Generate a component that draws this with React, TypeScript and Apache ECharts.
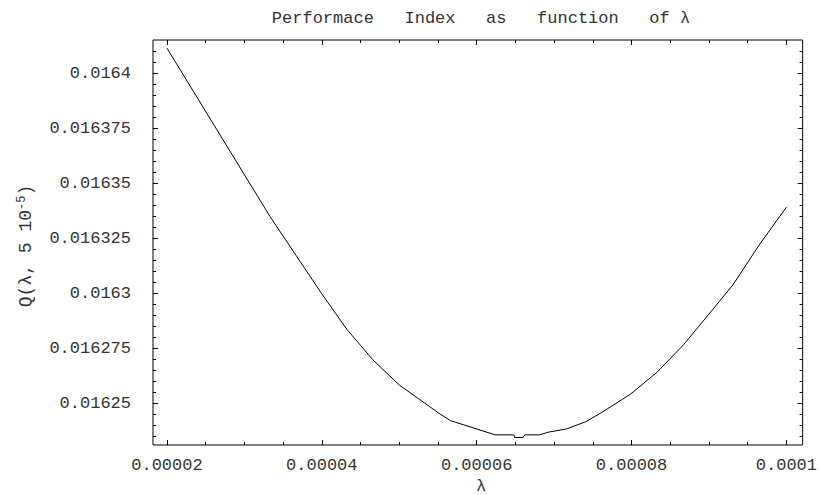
import React, { useEffect, useRef } from "react";
import * as echarts from "echarts";

// Sampled curve Q(lambda, 5 10^-5)
const lambdaValues = [
  0.00002, 0.0000333, 0.00004, 0.0000433, 0.0000466, 0.00005, 0.0000551, 0.0000566,
  0.0000624, 0.0000648, 0.0000649, 0.000066, 0.0000662, 0.0000681, 0.0000692, 0.0000716,
  0.0000741, 0.0000762, 0.0000799, 0.0000833, 0.0000867, 0.0000899, 0.0000931, 0.0000965,
  0.0001,
];
const qValues = [
  0.0164114, 0.0163349, 0.0162997, 0.0162833, 0.0162697, 0.0162583, 0.0162455, 0.0162421,
  0.0162356, 0.0162356, 0.0162344, 0.0162344, 0.0162356, 0.0162356, 0.0162368, 0.0162383,
  0.0162416, 0.0162459, 0.0162542, 0.0162641, 0.0162765, 0.0162901, 0.0163038, 0.016322,
  0.0163391,
];

const xMajorTicks = [0.00002, 0.00004, 0.00006, 0.00008, 0.0001];
const xTickLabels = ["0.00002", "0.00004", "0.00006", "0.00008", "0.0001"];
const xMinorTicks = [
  0.000025, 0.00003, 0.000035, 0.000045, 0.00005, 0.000055, 0.000065, 0.00007, 0.000075,
  0.000085, 0.00009, 0.000095,
];
const yMajorTicks = [0.01625, 0.016275, 0.0163, 0.016325, 0.01635, 0.016375, 0.0164];
const yTickLabels = ["0.01625", "0.016275", "0.0163", "0.016325", "0.01635", "0.016375", "0.0164"];
const yMinorTicks = [
  0.016235, 0.01624, 0.016245, 0.016255, 0.01626, 0.016265, 0.01627, 0.01628, 0.016285,
  0.01629, 0.016295, 0.016305, 0.01631, 0.016315, 0.01632, 0.01633, 0.016335, 0.01634,
  0.016345, 0.016355, 0.01636, 0.016365, 0.01637, 0.01638, 0.016385, 0.01639, 0.016395,
  0.016405, 0.01641,
];

const X_MIN = 0.0000182;
const X_MAX = 0.0001021;
const Y_MIN = 0.016231;
const Y_MAX = 0.0164151;

const FONT = "'Liberation Mono', 'DejaVu Sans Mono', monospace";
const TEXT_COLOR = "#333";

function nearestLabel(v: number, ticks: number[], labels: string[]) {
  let best = 0;
  for (let i = 1; i < ticks.length; i++) {
    if (Math.abs(ticks[i] - v) < Math.abs(ticks[best] - v)) best = i;
  }
  return labels[best];
}

function makeAxis(
  dim: "x" | "y",
  position: string,
  ticks: number[],
  length: number,
  labels: string[] | null
) {
  const isX = dim === "x";
  return {
    type: "value",
    position,
    min: isX ? X_MIN : Y_MIN,
    max: isX ? X_MAX : Y_MAX,
    axisLine: { show: false, onZero: false },
    splitLine: { show: false },
    axisTick: {
      show: true,
      inside: true,
      length,
      customValues: ticks,
      lineStyle: { color: "#000", width: 1 },
    },
    axisLabel: labels
      ? {
          show: true,
          customValues: ticks,
          margin: isX ? 12 : 22,
          color: TEXT_COLOR,
          fontFamily: FONT,
          fontSize: 17,
          formatter: (v: number) => nearestLabel(v, ticks, labels),
        }
      : { show: false },
  };
}

export default function App() {
  const ref = useRef<HTMLDivElement>(null);

  useEffect(() => {
    if (!ref.current) return;
    const chart = echarts.init(ref.current, null, { renderer: "svg" });
    const data = lambdaValues.map((x, i) => [x, qValues[i]]);

    chart.setOption({
      animation: false,
      backgroundColor: "#fff",
      grid: {
        left: 153,
        right: 11,
        top: 40,
        bottom: 50,
        show: true,
        borderColor: "#000",
        borderWidth: 1,
        backgroundColor: "transparent",
        containLabel: false,
      },
      xAxis: [
        makeAxis("x", "bottom", xMajorTicks, 5, xTickLabels),
        makeAxis("x", "bottom", xMinorTicks, 3, null),
        makeAxis("x", "top", xMajorTicks, 5, null),
        makeAxis("x", "top", xMinorTicks, 3, null),
      ],
      yAxis: [
        makeAxis("y", "left", yMajorTicks, 5, yTickLabels),
        makeAxis("y", "left", yMinorTicks, 3, null),
        makeAxis("y", "right", yMajorTicks, 5, null),
        makeAxis("y", "right", yMinorTicks, 3, null),
      ],
      graphic: [
        {
          type: "text",
          x: 481,
          y: 18,
          style: {
            text: "Performace   Index   as   function   of λ",
            fill: TEXT_COLOR,
            font: `17px ${FONT}`,
            align: "center",
            verticalAlign: "middle",
          },
        },
        {
          type: "text",
          x: 481,
          y: 486,
          style: {
            text: "λ",
            fill: TEXT_COLOR,
            font: `17px ${FONT}`,
            align: "center",
            verticalAlign: "middle",
          },
        },
        {
          type: "text",
          x: 26,
          y: 246,
          rotation: Math.PI / 2,
          style: {
            text: "Q(λ, 5 10{sup|-5})",
            fill: TEXT_COLOR,
            font: `18px ${FONT}`,
            align: "center",
            verticalAlign: "middle",
            rich: {
              sup: {
                fontSize: 12,
                fontFamily: FONT,
                fill: TEXT_COLOR,
                verticalAlign: "top",
                padding: [0, 0, 8, 0],
              },
            },
          },
        },
      ],
      series: [
        {
          type: "line",
          xAxisIndex: 0,
          yAxisIndex: 0,
          data,
          showSymbol: false,
          symbol: "none",
          lineStyle: { color: "#000", width: 1 },
          silent: true,
        },
      ],
    });

    return () => chart.dispose();
  }, []);

  return (
    <div
      ref={ref}
      style={{ position: "absolute", left: 0, top: 0, width: 820, height: 495 }}
    />
  );
}
